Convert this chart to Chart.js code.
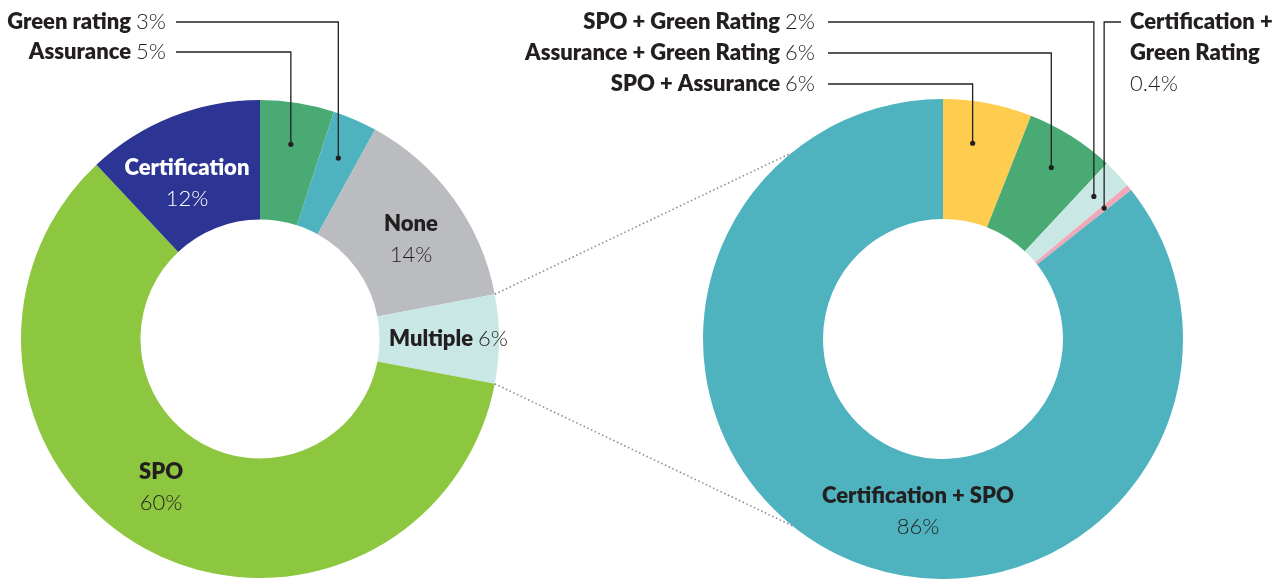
<!DOCTYPE html>
<html lang="en">
<head>
<meta charset="utf-8">
<script src="https://cdn.jsdelivr.net/npm/chart.js@4/dist/chart.umd.min.js"></script>
<style>
    body { margin: 0; background: #fff; }
    #quadro { position: relative; width: 1282px; height: 579px; }
    #quadro canvas { position: absolute; left: 0; top: 0; }
</style>
</head>
<body>
<div id="quadro">
    <canvas id="grafico-esq" width="1282" height="579"></canvas>
    <canvas id="grafico-dir" width="1282" height="579"></canvas>
</div>
<script>
// Dados: tipo de revisão externa
const categoriasEsq = ['Assurance', 'Green rating', 'None', 'Multiple', 'SPO', 'Certification'];
const valoresEsq = [5, 3, 14, 6, 60, 12];
const coresEsq = ['#4aaa73', '#4eb3bf', '#bbbcc0', '#c9e8e5', '#8dc63f', '#2c3593'];

// Dados: detalhe de "Multiple"
const categoriasDir = ['SPO + Assurance', 'Assurance + Green Rating', 'SPO + Green Rating', 'Certification + Green Rating', 'Certification + SPO'];
const valoresDir = [6, 6, 2, 0.4, 86];
const coresDir = ['#fecc4f', '#4aaa73', '#c9e8e5', '#f2a7b9', '#4eb3bf'];

const FONTE = 'Lato, "Open Sans", sans-serif';
const COR_TEXTO = '#231f20';
const NEGRITO = '800 22px ' + FONTE;
const LEVE = '300 22px ' + FONTE;

Chart.defaults.font.family = FONTE;

function pct(v) { return v + '%'; }

// texto "Negrito valor%" alinhado à direita em x
function textoDireita(ctx, x, y, nome, valor) {
    ctx.textBaseline = 'middle';
    ctx.textAlign = 'right';
    ctx.font = LEVE;
    ctx.fillStyle = COR_TEXTO;
    ctx.fillText(valor, x, y);
    const w = ctx.measureText(valor).width;
    ctx.font = NEGRITO;
    ctx.fillText(nome, x - w - 5, y);
}

function textoCentro(ctx, x, y, nome, valor, cor) {
    ctx.textBaseline = 'middle';
    ctx.textAlign = 'center';
    ctx.fillStyle = cor;
    ctx.font = NEGRITO;
    ctx.fillText(nome, x, y);
    ctx.font = LEVE;
    ctx.fillText(valor, x, y + 31);
}

function pontoArco(arco, fracRaio, fracAng = 0.5) {
    const a = arco.startAngle + (arco.endAngle - arco.startAngle) * fracAng;
    const r = arco.innerRadius + (arco.outerRadius - arco.innerRadius) * fracRaio;
    return { x: arco.x + r * Math.cos(a), y: arco.y + r * Math.sin(a) };
}

function chamada(ctx, p, yTexto, xFim) {
    ctx.save();
    ctx.strokeStyle = '#231f20';
    ctx.lineWidth = 1.3;
    ctx.beginPath();
    ctx.moveTo(p.x, p.y);
    ctx.lineTo(p.x, yTexto);
    ctx.lineTo(xFim, yTexto);
    ctx.stroke();
    ctx.fillStyle = '#231f20';
    ctx.beginPath();
    ctx.arc(p.x, p.y, 2.6, 0, Math.PI * 2);
    ctx.fill();
    ctx.restore();
}

const rotulosEsq = {
    id: 'rotulosEsq',
    afterDraw(chart) {
        const ctx = chart.ctx;
        const arcos = chart.getDatasetMeta(0).data;

        // chamadas das fatias pequenas
        const iAss = categoriasEsq.indexOf('Assurance');
        const iGr = categoriasEsq.indexOf('Green rating');
        chamada(ctx, pontoArco(arcos[iAss], 0.65), 52, 176);
        chamada(ctx, pontoArco(arcos[iGr], 0.65), 22, 176);
        textoDireita(ctx, 166, 22, categoriasEsq[iGr], pct(valoresEsq[iGr]));
        textoDireita(ctx, 166, 52, categoriasEsq[iAss], pct(valoresEsq[iAss]));

        // rótulos internos
        const iCert = categoriasEsq.indexOf('Certification');
        const iNone = categoriasEsq.indexOf('None');
        const iSpo = categoriasEsq.indexOf('SPO');
        const iMul = categoriasEsq.indexOf('Multiple');
        textoCentro(ctx, 187, 168, categoriasEsq[iCert], pct(valoresEsq[iCert]), '#fff');
        textoCentro(ctx, 411, 224, categoriasEsq[iNone], pct(valoresEsq[iNone]), COR_TEXTO);
        textoCentro(ctx, 161, 472, categoriasEsq[iSpo], pct(valoresEsq[iSpo]), COR_TEXTO);
        textoDireita(ctx, 508, 339, categoriasEsq[iMul], pct(valoresEsq[iMul]));
    }
};

const rotulosDir = {
    id: 'rotulosDir',
    afterDraw(chart) {
        const ctx = chart.ctx;
        const arcos = chart.getDatasetMeta(0).data;

        // linhas pontilhadas ligando "Multiple" ao detalhe
        const mul = graficoEsq.getDatasetMeta(0).data[categoriasEsq.indexOf('Multiple')];
        const c = arcos[0];
        const angDir = [-2.255, 2.25];
        const angEsq = [mul.startAngle, mul.endAngle];
        ctx.save();
        ctx.strokeStyle = '#8a8b99';
        ctx.lineWidth = 1.6;
        ctx.setLineDash([1.5, 2.6]);
        for (let k = 0; k < 2; k++) {
            ctx.beginPath();
            ctx.moveTo(mul.x + mul.outerRadius * Math.cos(angEsq[k]), mul.y + mul.outerRadius * Math.sin(angEsq[k]));
            ctx.lineTo(c.x + c.outerRadius * Math.cos(angDir[k]), c.y + c.outerRadius * Math.sin(angDir[k]));
            ctx.stroke();
        }
        ctx.restore();

        const niveis = [84, 53, 22];
        const fracAng = [0.4, 0.5, 0.5];
        for (let i = 0; i < 3; i++) {
            chamada(ctx, pontoArco(arcos[i], 0.65 + i * 0.04, fracAng[i]), niveis[i], 828);
            textoDireita(ctx, 815, niveis[i], categoriasDir[i], pct(valoresDir[i]));
        }

        // Certification + Green Rating
        const p = pontoArco(arcos[3], 0.73);
        chamada(ctx, p, 22, 1121);
        ctx.textAlign = 'left';
        ctx.textBaseline = 'middle';
        ctx.fillStyle = COR_TEXTO;
        ctx.font = NEGRITO;
        ctx.fillText('Certification +', 1130, 22);
        ctx.fillText('Green Rating', 1130, 53);
        ctx.font = LEVE;
        ctx.fillText(pct(valoresDir[3]), 1130, 84);

        const iCs = categoriasDir.indexOf('Certification + SPO');
        textoCentro(ctx, 918, 496, categoriasDir[iCs], pct(valoresDir[iCs]), COR_TEXTO);
    }
};

function opcoes(padding) {
    return {
        responsive: false,
        animation: false,
        cutout: '50%',
        layout: { padding },
        plugins: { legend: { display: false }, tooltip: { enabled: false } }
    };
}

const graficoEsq = new Chart(document.getElementById('grafico-esq').getContext('2d'), {
    type: 'doughnut',
    data: {
        labels: categoriasEsq,
        datasets: [{ data: valoresEsq, backgroundColor: coresEsq, borderWidth: 0 }]
    },
    options: opcoes({ left: 21, right: 783, top: 100, bottom: 1 }),
    plugins: [rotulosEsq]
});

const graficoDir = new Chart(document.getElementById('grafico-dir').getContext('2d'), {
    type: 'doughnut',
    data: {
        labels: categoriasDir,
        datasets: [{ data: valoresDir, backgroundColor: coresDir, borderWidth: 0 }]
    },
    options: opcoes({ left: 703, right: 99, top: 99, bottom: 0 }),
    plugins: [rotulosDir]
});
</script>
</body>
</html>
